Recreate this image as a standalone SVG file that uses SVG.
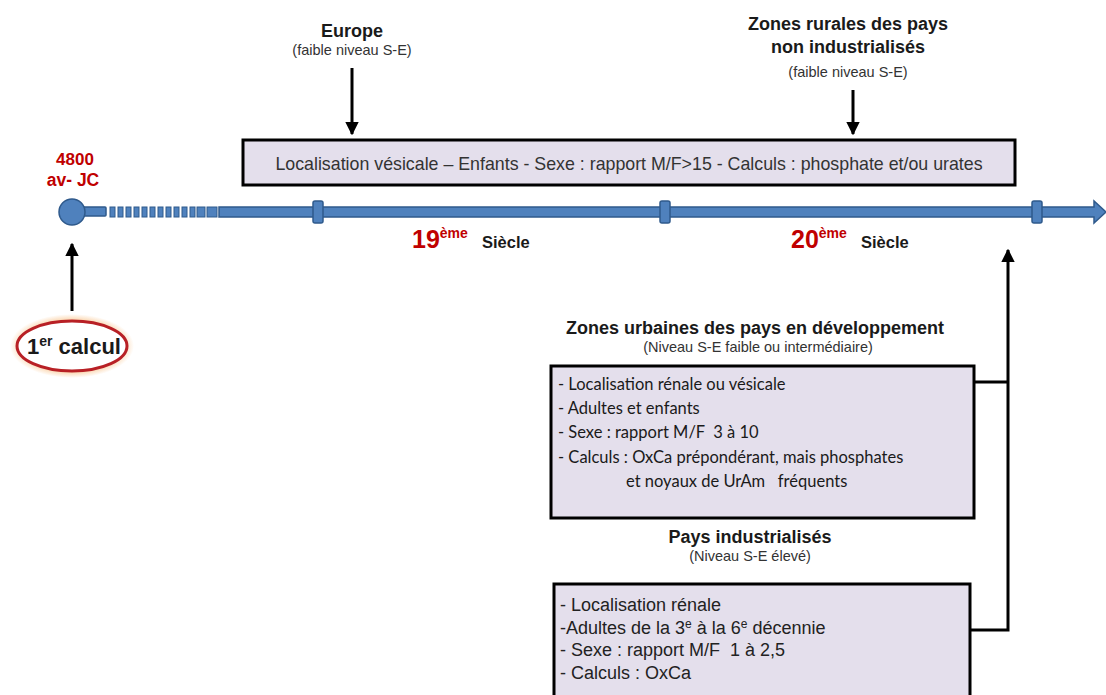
<svg xmlns="http://www.w3.org/2000/svg" width="1106" height="695" viewBox="0 0 1106 695">
<defs>
<style>
.t{font-family:"Liberation Sans",Arial,sans-serif;fill:#1a1a1a}
.b{font-weight:bold}
.s{font-size:14.5px;fill:#333}
.h{font-size:18px;font-weight:bold}
.box{fill:#E4DFEC;stroke:#000;stroke-width:3}
.bar{fill:#4F81BD;stroke:#2F5A8C;stroke-width:1.5}
.line{stroke:#000;stroke-width:3;fill:none}
.cal{font-family:Lato,"Open Sans",sans-serif;font-size:16.5px;fill:#1a1a1a}
.l2{font-size:18px;fill:#222}
</style>
<marker id="ah" viewBox="0 0 10 10" refX="9" refY="5" markerWidth="4.5" markerHeight="4.5" orient="auto"><path d="M0,0 L10,5 L0,10 z" fill="#000"/></marker>
<radialGradient id="glow" cx="0.5" cy="0.5" r="0.5"><stop offset="0.75" stop-color="#F7B36B" stop-opacity="0.7"/><stop offset="1" stop-color="#F7B36B" stop-opacity="0"/></radialGradient>
</defs>

<g id="timeline">
<rect class="bar" x="80" y="207" width="26" height="9" rx="1"/>
<g fill="#4F81BD" stroke="#2F5A8C" stroke-width="1">
<rect x="110" y="207" width="5" height="10"/><rect x="118" y="207" width="5" height="10"/><rect x="126" y="207" width="5" height="10"/><rect x="134" y="207" width="5" height="10"/><rect x="142" y="207" width="5" height="10"/><rect x="150" y="207" width="5" height="10"/><rect x="158" y="207" width="5" height="10"/><rect x="166" y="207" width="5" height="10"/><rect x="174" y="207" width="5" height="10"/><rect x="182" y="207" width="5" height="10"/><rect x="190" y="207" width="5" height="10"/><rect x="197" y="207" width="8" height="10"/><rect x="207" y="207" width="10" height="10"/>
</g>
<path class="bar" d="M219,207 L1094,207 L1094,201 L1106,212 L1094,223 L1094,217 L219,217 Z"/>
<circle cx="72" cy="212" r="13" fill="#4F81BD" stroke="#2F5A8C" stroke-width="1.5"/>
<rect class="bar" x="313" y="201" width="10" height="22" rx="2"/>
<rect class="bar" x="660" y="201" width="10" height="22" rx="2"/>
<rect class="bar" x="1032" y="201" width="10" height="22" rx="2"/>
<text class="t b" x="75" y="165" font-size="17" text-anchor="middle" style="fill:#C00000">4800</text>
<text class="t b" x="73" y="186" font-size="17.5" text-anchor="middle" style="fill:#C00000">av- JC</text>
<text class="t b" x="412" y="248" font-size="25" style="fill:#C00000">19<tspan font-size="14" dy="-10">ème</tspan></text>
<text class="t b" x="482" y="248" font-size="16.5">Siècle</text>
<text class="t b" x="791" y="248" font-size="25" style="fill:#C00000">20<tspan font-size="14" dy="-10">ème</tspan></text>
<text class="t b" x="861" y="248" font-size="16.5">Siècle</text>
</g>

<g id="first">
<ellipse cx="72" cy="346" rx="62" ry="32" fill="url(#glow)"/>
<ellipse cx="72" cy="346" rx="55" ry="25" fill="#fff" stroke="#B82025" stroke-width="3"/>
<text class="t b" x="74" y="354" font-size="22" text-anchor="middle">1<tspan font-size="14" dy="-8">er</tspan><tspan dy="8"> calcul</tspan></text>
</g>

<g id="europe">
<text class="t h" x="352" y="37" text-anchor="middle">Europe</text>
<text class="t s" x="352" y="55" text-anchor="middle">(faible niveau S-E)</text>
</g>

<g id="rural">
<text class="t h" x="848" y="30" text-anchor="middle">Zones rurales des pays</text>
<text class="t h" x="848" y="53" text-anchor="middle">non industrialisés</text>
<text class="t s" x="848" y="77" text-anchor="middle">(faible niveau S-E)</text>
</g>

<g id="topbox">
<rect class="box" x="243" y="140" width="772" height="45"/>
<text class="t" x="629" y="170" font-size="17.8" text-anchor="middle" style="fill:#333">Localisation vésicale – Enfants - Sexe : rapport M/F&gt;15 - Calculs : phosphate et/ou urates</text>
</g>

<g id="urban">
<text class="t h" x="755" y="334" text-anchor="middle">Zones urbaines des pays en développement</text>
<text class="t s" x="758" y="352" text-anchor="middle">(Niveau S-E faible ou intermédiaire)</text>
<rect class="box" x="551" y="366" width="423" height="152"/>
<text class="cal" x="558" y="390">- Localisation rénale ou vésicale</text>
<text class="cal" x="558" y="414">- Adultes et enfants</text>
<text class="cal" x="558" y="438" xml:space="preserve">- Sexe : rapport M/F  3 à 10</text>
<text class="cal" x="558" y="463">- Calculs : OxCa prépondérant, mais phosphates</text>
<text class="cal" x="626" y="487" xml:space="preserve">et noyaux de UrAm   fréquents</text>
</g>

<g id="industrial">
<text class="t h" x="750" y="543" text-anchor="middle">Pays industrialisés</text>
<text class="t s" x="750" y="561" text-anchor="middle">(Niveau S-E élevé)</text>
<rect class="box" x="554" y="584" width="416" height="130"/>
<text class="t l2" x="560" y="611">- Localisation rénale</text>
<text class="t l2" x="560" y="634">-Adultes de la 3<tspan font-size="12" dy="-6">e</tspan><tspan dy="6"> à la 6</tspan><tspan font-size="12" dy="-6">e</tspan><tspan dy="6"> décennie</tspan></text>
<text class="t l2" x="560" y="656" xml:space="preserve">- Sexe : rapport M/F  1 à 2,5</text>
<text class="t l2" x="560" y="679">- Calculs : OxCa</text>
</g>

<g id="connectors">
<line class="line" x1="352" y1="68" x2="352" y2="134" marker-end="url(#ah)"/>
<line class="line" x1="853" y1="90" x2="853" y2="134" marker-end="url(#ah)"/>
<line class="line" x1="72" y1="311" x2="72" y2="244" marker-end="url(#ah)"/>
<polyline class="line" points="974,382 1007,382"/>
<polyline class="line" points="970,630 1008,630 1008,250" marker-end="url(#ah)"/>
</g>
</svg>
